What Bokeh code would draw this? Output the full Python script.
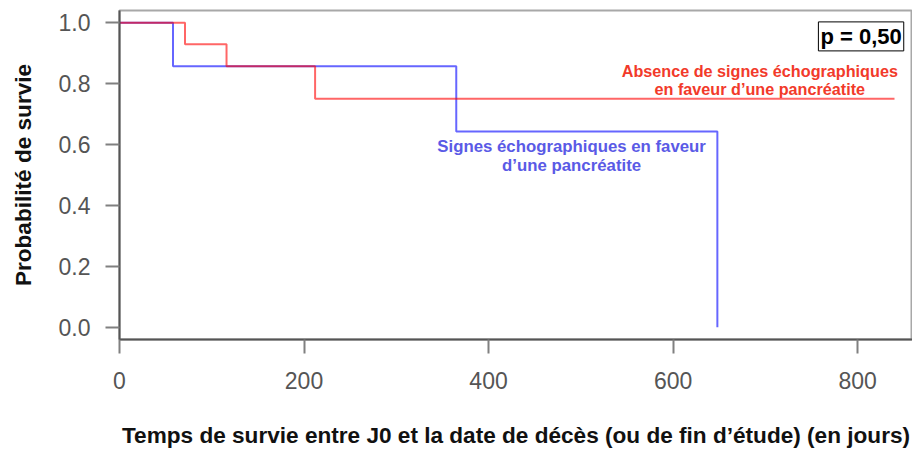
from bokeh.plotting import figure
from bokeh.models import Range1d, FixedTicker, Label, ColumnDataSource, PrintfTickFormatter
from bokeh.core.properties import value
from bokeh.embed import file_html
from bokeh.resources import INLINE

# ---- data ----
blue_time = [0, 58, 365, 648]
blue_surv = [1.0, 0.857, 0.643, 0.0]
red_time = [0, 71, 116, 212, 840]
red_surv = [1.0, 0.929, 0.857, 0.75, 0.75]

x_ticks = [0, 200, 400, 600, 800]
y_ticks = [0.0, 0.2, 0.4, 0.6, 0.8, 1.0]

x_title = "Temps de survie entre J0 et la date de décès (ou de fin d\u2019étude) (en jours)"
y_title = "Probabilité de survie"
p_text = "p = 0,50"

red_label_lines = ["Absence de signes échographiques", "en faveur d\u2019une pancréatite"]
red_label_x = [694, 694]
red_label_y = [0.840, 0.781]

blue_label_lines = ["Signes échographiques en faveur", "d\u2019une pancréatite"]
blue_label_x = [490, 490]
blue_label_y = [0.595, 0.532]

FONT = "Liberation Sans"

p = figure(width=912, height=450, output_backend="svg", toolbar_location=None,
           x_range=Range1d(0, 859.5), y_range=Range1d(-0.04, 1.04),
           min_border_left=119, min_border_top=10, min_border_bottom=111,
           min_border_right=0)

p.grid.visible = False
p.outline_line_color = "#a8a8a8"
p.outline_line_width = 2
p.background_fill_color = "white"
p.border_fill_color = "white"

# axes
for ax in (p.xaxis[0], p.yaxis[0]):
    ax.axis_line_color = "#555555"
    ax.axis_line_width = 2
    ax.major_tick_line_color = "#808080"
    ax.major_tick_line_width = 2
    ax.major_tick_out = 14
    ax.major_tick_in = 0
    ax.minor_tick_line_color = None
    ax.major_label_text_font = FONT
    ax.major_label_text_font_size = "23px"
    ax.major_label_text_color = "#555555"
    ax.axis_label_text_font = FONT
    ax.axis_label_text_font_size = "22.6px"
    ax.axis_label_text_font_style = "bold"
    ax.axis_label_text_color = "#111111"

p.xaxis[0].ticker = FixedTicker(ticks=x_ticks)
p.yaxis[0].ticker = FixedTicker(ticks=y_ticks)
p.yaxis[0].formatter = PrintfTickFormatter(format="%.1f")
p.xaxis[0].axis_label = x_title
p.yaxis[0].axis_label = y_title
p.xaxis[0].major_label_standoff = 18
p.xaxis[0].axis_label_standoff = 31
p.yaxis[0].major_label_standoff = 15
p.yaxis[0].axis_label_standoff = 20

# curves
p.step(blue_time, blue_surv, mode="after", line_color="#0000ff", line_alpha=0.6, line_width=2)
p.step(red_time, red_surv, mode="after", line_color="#ff0000", line_alpha=0.6, line_width=2)

# labels
red_src = ColumnDataSource(dict(x=red_label_x, y=red_label_y, t=red_label_lines))
blue_src = ColumnDataSource(dict(x=blue_label_x, y=blue_label_y, t=blue_label_lines))
p.text(x="x", y="y", text="t", source=red_src, text_align="center", text_baseline="middle",
       text_font=value(FONT), text_font_style="bold", text_font_size="16.2px",
       text_color="#f23a2a")
p.text(x="x", y="y", text="t", source=blue_src, text_align="center", text_baseline="middle",
       text_font=value(FONT), text_font_style="bold", text_font_size="16.8px",
       text_color="#5a5ae6")

p.add_layout(Label(x=850, y=0.955, text=p_text, text_align="right", text_baseline="middle",
                   text_font=FONT, text_font_style="bold", text_font_size="22px",
                   text_color="black", border_line_color="black", border_line_width=1,
                   background_fill_color="white", padding=2))

open("out.html", "w").write(file_html(p, INLINE))
